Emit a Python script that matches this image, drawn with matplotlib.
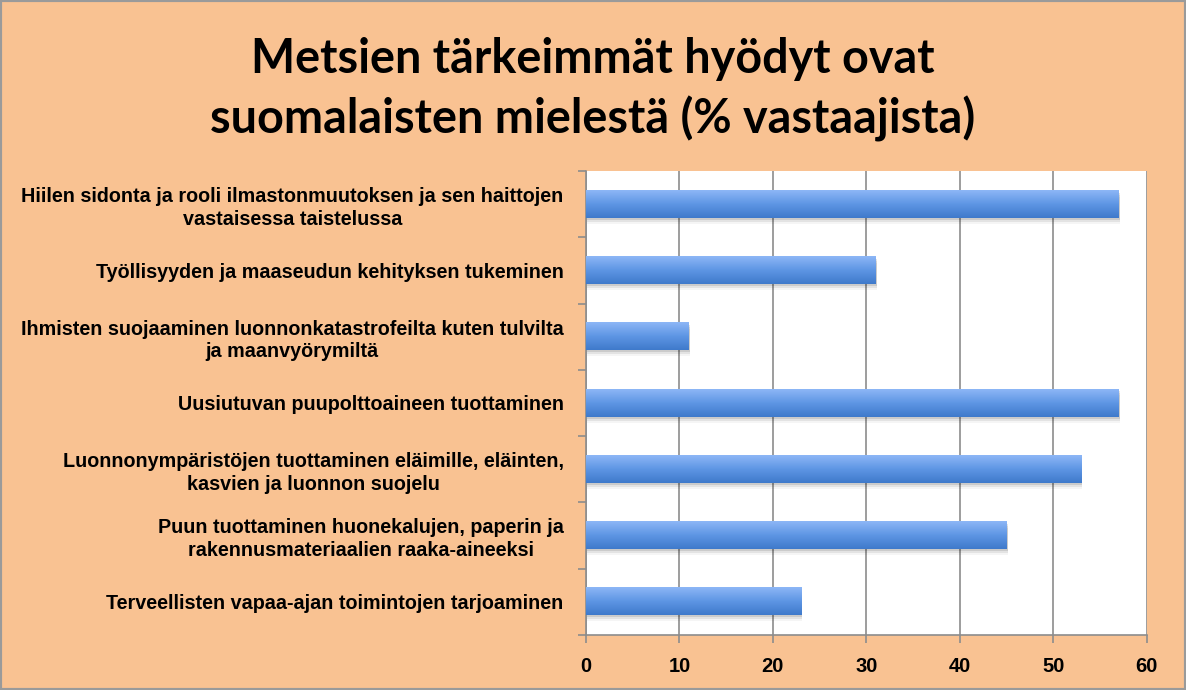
import numpy as np
import matplotlib.pyplot as plt
from matplotlib.patches import Rectangle

categories = [
    "Hiilen sidonta ja rooli ilmastonmuutoksen ja sen haittojen\nvastaisessa taistelussa",
    "Työllisyyden ja maaseudun kehityksen tukeminen",
    "Ihmisten suojaaminen luonnonkatastrofeilta kuten tulvilta\nja maanvyörymiltä",
    "Uusiutuvan puupolttoaineen tuottaminen",
    "Luonnonympäristöjen tuottaminen eläimille, eläinten,\nkasvien ja luonnon suojelu",
    "Puun tuottaminen huonekalujen, paperin ja\nrakennusmateriaalien raaka-aineeksi",
    "Terveellisten vapaa-ajan toimintojen tarjoaminen",
]
values = [57, 31, 11, 57, 53, 45, 23]
xticks = [0, 10, 20, 30, 40, 50, 60]

bg = "#F9C292"
fig = plt.figure(figsize=(11.86, 6.90), dpi=100, facecolor=bg)
ax = fig.add_axes([0.494, 0.080, 0.473, 0.672])
ax.set_facecolor("white")

n = len(categories)
ypos = np.arange(n)[::-1]
h = 0.41

# vertical gradient for the bars (light top, darker bottom)
grad = np.linspace(0, 1, 64).reshape(-1, 1)
cmap = plt.matplotlib.colors.LinearSegmentedColormap.from_list(
    "bar", ["#8DB6F6", "#5E96E4", "#3F7ACB"])

for y, v in zip(ypos, values):
    # soft shadow under the bar
    for k, a in [(0.03, 0.10), (0.06, 0.07), (0.09, 0.04)]:
        ax.add_patch(Rectangle((0.1, y - h / 2 - k), v, h, color="#000000",
                               alpha=a, lw=0, zorder=2))
    ax.imshow(grad, cmap=cmap, aspect="auto", extent=[0, v, y - h / 2, y + h / 2],
              zorder=3, interpolation="bicubic")

ax.set_xlim(0, 60)
ax.set_ylim(-0.5, n - 0.5)

ax.set_xticks(xticks)
ax.set_xticklabels([str(t) for t in xticks])
ax.xaxis.grid(True, color="#8C8C8C", lw=1.2, zorder=1)
ax.set_axisbelow(True)

ax.set_yticks(ypos)
ax.set_yticklabels(categories)
ax.set_yticks(np.arange(n + 1) - 0.5, minor=True)
ax.tick_params(axis="y", which="major", length=0, pad=16)
ax.tick_params(axis="y", which="minor", length=6, color="#8C8C8C", width=1.2)
ax.tick_params(axis="x", length=6, color="#8C8C8C", width=1.2, pad=10)

for lab in ax.get_yticklabels():
    lab.set_fontfamily("Liberation Sans")
    lab.set_fontweight("bold")
    lab.set_fontsize(14.2)
    lab.set_multialignment("center")
    lab.set_linespacing(1.25)
for lab in ax.get_xticklabels():
    lab.set_fontfamily(["Liberation Sans Narrow", "Liberation Sans"])
    lab.set_fontweight("bold")
    lab.set_fontsize(14.5)

for s in ["top", "right"]:
    ax.spines[s].set_visible(False)
for s in ["left", "bottom"]:
    ax.spines[s].set_color("#8C8C8C")
    ax.spines[s].set_linewidth(1.2)

fig.text(0.5, 0.870, "Metsien tärkeimmät hyödyt ovat\nsuomalaisten mielestä (% vastaajista)",
         ha="center", va="center", fontsize=33.7, fontweight="bold",
         family=["Lato", "DejaVu Sans"], linespacing=1.38)

fig.patches.append(Rectangle((0, 0), 1, 1, transform=fig.transFigure, fill=False,
                             edgecolor="#9A9A9A", lw=3))

fig.savefig("out.png", dpi=100, facecolor=bg)
